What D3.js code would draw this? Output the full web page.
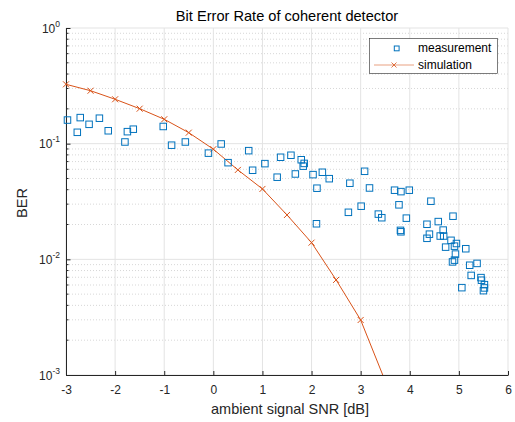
<!DOCTYPE html>
<html lang="en">
<head>
    <meta charset="UTF-8">
    <title>Bit Error Rate of coherent detector</title>
    <style>
        body,html{
            margin:0;
            padding:0;
            border:0;
            background:#fff;
            font-family:"Liberation Sans", Arial, Helvetica, sans-serif;
        }
    </style>
</head>
<body>
    <svg id="svg" width="515" height="422"></svg>
    <script type="text/javascript" src="https://cdnjs.cloudflare.com/ajax/libs/d3/7.8.5/d3.min.js"></script>
    <script type="text/javascript">
        // measured points (SNR in dB, BER)
        var measSNR = [-2.97,-2.71,-2.77,-2.53,-2.32,-2.14,-1.80,-1.75,-1.63,-1.02,
                       -0.85,-0.57,-0.10,0.16,0.30,0.72,0.80,1.05,1.30,1.37,
                       1.58,1.67,1.79,1.85,1.83,2.03,2.11,2.22,2.36,2.10,
                       2.78,2.75,3.08,3.18,3.01,3.36,3.43,3.69,3.82,3.99,
                       3.78,3.93,3.81,3.82,4.43,4.88,4.35,4.58,4.40,4.35,
                       4.68,4.62,4.69,4.84,4.95,4.91,4.73,5.14,4.93,4.91,
                       4.87,5.22,5.37,5.25,5.45,5.46,5.52,5.52,5.50,5.06];
        var measBER = [0.160,0.168,0.1254,0.147,0.166,0.1293,0.1034,0.127,0.1334,0.1408,
                       0.0970,0.1034,0.0828,0.0994,0.0685,0.0870,0.0589,0.0672,0.0513,0.0763,
                       0.0794,0.0547,0.0726,0.0675,0.0639,0.0540,0.0412,0.0566,0.0498,0.0203,
                       0.0455,0.0255,0.0577,0.0414,0.0288,0.0246,0.0229,0.0396,0.0385,0.0396,
                       0.0296,0.0227,0.0178,0.0173,0.0318,0.0236,0.0201,0.0212,0.0165,0.0152,
                       0.0179,0.0159,0.0159,0.0146,0.0137,0.0130,0.01275,0.01235,0.0111,0.00984,
                       0.0095,0.00889,0.00922,0.00726,0.00695,0.0066,0.00604,0.00566,0.00536,0.00569];

        // simulated curve
        var simSNR = [-3,-2.5,-2,-1.5,-1,-0.5,0,0.5,1,1.5,2,2.5,3,3.5];
        var simBER = [0.326,0.287,0.242,0.2007,0.1625,0.1245,0.0896,0.0593,0.0406,0.0242,0.01394,0.00664,0.00299,0.000885];

        var xTicks = [-3,-2,-1,0,1,2,3,4,5,6];
        var yTicks = [1e-3,1e-2,1e-1,1e0];
        var yExp = ["-3","-2","-1","0"];

        var blue = "#0072BD", orange = "#D95319", axisCol = "#262626";

        var svg = d3.select("#svg");
        var x = d3.scaleLinear().domain([-3,6]).range([66,508]);
        var y = d3.scaleLog().domain([1e-3,1]).range([375,28]);

        // minor y values 2..9 per decade
        var yMinor = [];
        yTicks.slice(0,3).forEach(function(d){
            for(var k=2;k<10;k++) yMinor.push(d*k);
        });

        var grid = svg.append("g");
        grid.selectAll(".minor").data(yMinor).enter().append("line")
            .attr("x1",x(-3)).attr("x2",x(6))
            .attr("y1",function(d){return y(d);}).attr("y2",function(d){return y(d);})
            .attr("stroke","#cdcdcd").attr("stroke-width",0.8).attr("stroke-dasharray","1,2");
        grid.selectAll(".ymaj").data(yTicks).enter().append("line")
            .attr("x1",x(-3)).attr("x2",x(6))
            .attr("y1",function(d){return y(d);}).attr("y2",function(d){return y(d);})
            .attr("stroke","#e3e3e3").attr("stroke-width",1);
        grid.selectAll(".xmaj").data(xTicks).enter().append("line")
            .attr("x1",function(d){return x(d);}).attr("x2",function(d){return x(d);})
            .attr("y1",y(1e-3)).attr("y2",y(1))
            .attr("stroke","#e3e3e3").attr("stroke-width",1);

        // axes
        var xAxis = d3.axisBottom(x).tickValues(xTicks).tickSizeInner(-4).tickSizeOuter(0)
            .tickPadding(10).tickFormat(function(d){return String(d);});
        var gx = svg.append("g").attr("transform","translate(0,"+y(1e-3)+")").call(xAxis);
        gx.select(".domain").attr("stroke",axisCol);
        gx.selectAll(".tick line").attr("stroke",axisCol);
        gx.selectAll("text").attr("fill",axisCol).attr("font-size",12)
            .attr("font-family","'Liberation Sans', Arial, sans-serif");

        var yAxis = d3.axisLeft(y).tickValues(yTicks).tickSizeInner(-4.5).tickSizeOuter(0).tickFormat("");
        var gy = svg.append("g").attr("transform","translate("+x(-3)+",0)").call(yAxis);
        gy.select(".domain").attr("stroke",axisCol);
        gy.selectAll(".tick line").attr("stroke",axisCol);
        gy.selectAll(".minortick").data(yMinor).enter().append("line")
            .attr("x1",0).attr("x2",2.5)
            .attr("y1",function(d){return y(d);}).attr("y2",function(d){return y(d);})
            .attr("stroke",axisCol);

        var ylab = svg.append("g").selectAll("text").data(yTicks).enter().append("text")
            .attr("x",60).attr("y",function(d){return y(d)+4.5;})
            .attr("text-anchor","end").attr("fill",axisCol).attr("font-size",12);
        ylab.append("tspan").text("10");
        ylab.append("tspan").attr("dy",-6).attr("font-size",8.5)
            .text(function(d,i){return yExp[i];});

        // simulation line (line clipped to the axes, markers not)
        svg.append("clipPath").attr("id","plotclip").append("rect")
            .attr("x",x(-3)).attr("y",y(1)).attr("width",x(6)-x(-3)).attr("height",y(1e-3)-y(1));

        var simData = simSNR.map(function(d,i){return [d,simBER[i]];});
        svg.append("path").datum(simData).attr("clip-path","url(#plotclip)")
            .attr("fill","none").attr("stroke",orange).attr("stroke-width",1)
            .attr("d",d3.line().x(function(d){return x(d[0]);}).y(function(d){return y(d[1]);}));
        var cs = 3;
        svg.selectAll(".cross").data(simData.filter(function(d){return d[1]>=1e-3;})).enter().append("path")
            .attr("d",function(d){
                var cx = x(d[0]), cy = y(d[1]);
                return "M"+(cx-cs)+","+(cy-cs)+"L"+(cx+cs)+","+(cy+cs)+"M"+(cx-cs)+","+(cy+cs)+"L"+(cx+cs)+","+(cy-cs);
            })
            .attr("stroke",orange).attr("stroke-width",1).attr("fill","none");

        // measurement squares
        var sq = 6.5;
        svg.selectAll(".meas").data(measSNR).enter().append("rect")
            .attr("x",function(d){return x(d)-sq/2;})
            .attr("y",function(d,i){return y(measBER[i])-sq/2;})
            .attr("width",sq).attr("height",sq)
            .attr("fill","none").attr("stroke",blue).attr("stroke-width",1);

        // title and labels
        svg.append("text").attr("x",287).attr("y",20.5).attr("text-anchor","middle")
            .attr("font-size",14.6).attr("fill","#000").text("Bit Error Rate of coherent detector");
        svg.append("text").attr("x",290).attr("y",414).attr("text-anchor","middle")
            .attr("font-size",14.5).attr("fill",axisCol).text("ambient signal SNR [dB]");
        svg.append("text").attr("transform","translate(27,203) rotate(-90)").attr("text-anchor","middle")
            .attr("font-size",14.5).attr("fill",axisCol).text("BER");

        // legend
        var lg = svg.append("g");
        lg.append("rect").attr("x",369.5).attr("y",38.5).attr("width",128).attr("height",35)
            .attr("fill","#fff").attr("stroke",axisCol).attr("stroke-width",0.6);
        lg.append("rect").attr("x",394.3).attr("y",46).attr("width",4.8).attr("height",4.8)
            .attr("fill","none").attr("stroke",blue).attr("stroke-width",1);
        lg.append("line").attr("x1",374).attr("x2",414).attr("y1",65).attr("y2",65)
            .attr("stroke",orange).attr("stroke-width",1).attr("stroke-opacity",0.55);
        lg.append("path").attr("d","M391.5,62.5L396.5,67.5M391.5,67.5L396.5,62.5")
            .attr("stroke",orange).attr("stroke-width",1).attr("stroke-opacity",0.8);
        lg.append("text").attr("x",418).attr("y",52).attr("font-size",12).attr("fill","#000").text("measurement");
        lg.append("text").attr("x",418).attr("y",69).attr("font-size",12).attr("fill","#000").text("simulation");
    </script>
</body>
</html>
